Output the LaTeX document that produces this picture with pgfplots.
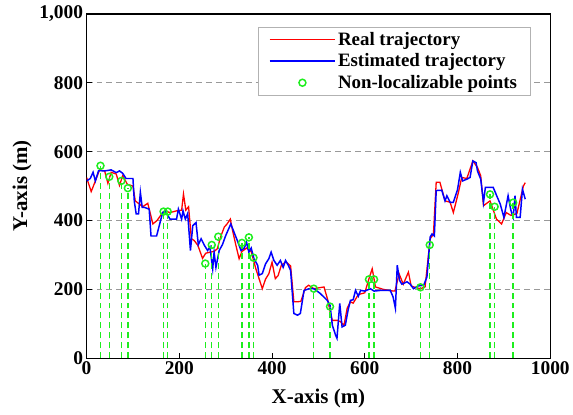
\documentclass[border=0pt]{standalone}
\usepackage{pgfplots}
\pgfplotsset{compat=1.18}
\usepackage{fontspec}
\setmainfont{Liberation Serif}
\definecolor{myblue}{RGB}{0,0,255}
\definecolor{mygreen}{RGB}{30,238,30}
\pgfplotsset{
  vline/.style={color=mygreen, solid, line width=1.4pt, dash pattern=on 6pt off 4pt, no marks, forget plot},
}
\begin{document}
\begin{tikzpicture}
\begin{axis}[
  scale only axis, width=466pt, height=346pt,
  xmin=0, xmax=1000, ymin=0, ymax=1000,
  xtick={0,200,...,1000}, ytick={0,200,...,1000},
  tick align=inside, xtick pos=bottom, ytick pos=left,
  major tick length=5pt,
  axis line style={line width=1.4pt, black},
  every tick/.style={line width=1pt, black},
  ymajorgrids, major grid style={gray!80, line width=0.9pt, dash pattern=on 6pt off 4pt},
  /pgf/number format/assume math mode=true,
  ticklabel style={font=\fontsize{19.5}{20}\selectfont\bfseries},
  x tick label style={/pgf/number format/1000 sep={}},
  y tick label style={/pgf/number format/1000 sep={,}},
  xlabel={X-axis (m)}, ylabel={Y-axis (m)},
  label style={font=\fontsize{21}{22}\selectfont\bfseries},
  xlabel style={at={(axis description cs:0.5,-0.118)}, anchor=center},
  ylabel style={at={(axis description cs:-0.139,0.5)}, anchor=center},
  legend style={at={(0.957,0.962)}, anchor=north east, draw=gray!60, line width=0.6pt,
    font=\fontsize{19}{20}\selectfont\bfseries, row sep=3pt, inner xsep=11pt, inner ysep=3pt},
  legend cell align=left,
  legend image code/.code={\draw[mark repeat=2,mark phase=2,#1] plot coordinates {(0pt,0pt) (33pt,0pt) (66pt,0pt)};},
]
\coordinate (O) at (rel axis cs:0,0);
\coordinate (T) at (rel axis cs:1,1);
\addplot[color=red, solid, line width=1.3pt, no marks] coordinates {
(0,525) (10,484) (17,508) (28,547) (39,544) (46,508) (53,540) (64,535) (71,502) (78,530)
(88,505) (100,500) (105,457) (121,440) (132,450) (143,390) (152,400) (164,423) (169,428) (180,423)
(194,428) (205,430) (209,477) (214,430) (220,440) (226,347) (232,342) (240,328) (250,290) (257,305)
(266,308) (275,310) (282,318) (289,352) (297,381) (303,390) (310,404) (315,370) (322,328) (329,289)
(335,310) (345,320) (355,310) (365,260) (372,231) (379,202) (386,230) (393,245) (400,279) (407,231)
(413,240) (420,270) (430,280) (440,268) (447,164) (454,164) (462,165) (472,205) (479,212) (490,202)
(512,207) (520,170) (526,130) (530,110) (540,110) (548,106) (555,95) (562,145) (569,164) (575,160)
(586,185) (600,190) (609,231) (616,260) (623,207) (640,200) (655,196) (665,195) (674,245) (683,215)
(694,250) (700,210) (710,205) (720,202) (730,207) (741,347) (748,360) (754,511) (762,511) (773,457)
(784,453) (791,423) (802,482) (809,525) (820,522) (833,573) (843,554) (850,530) (856,443) (870,457)
(884,404) (895,390) (905,423) (915,415) (928,420) (942,500) (946,510)
};
\addlegendentry{Real trajectory}
\addplot[color=myblue, solid, line width=1.5pt, no marks] coordinates {
(0,515) (8,522) (14,540) (19,515) (26,545) (39,544) (53,547) (64,539) (71,544) (78,537)
(85,522) (100,522) (103,455) (107,419) (112,419) (116,482) (120,438) (125,438) (135,433) (139,355)
(151,355) (164,423) (169,428) (180,404) (194,404) (198,433) (205,404) (208,428) (213,404) (218,420)
(224,313) (229,385) (236,394) (241,330) (247,347) (254,328) (261,313) (266,323) (272,260) (275,308)
(279,264) (286,313) (293,330) (300,356) (311,390) (318,366) (325,342) (333,313) (340,320) (345,337)
(350,308) (355,320) (361,289) (369,270) (372,241) (379,246) (386,274) (393,289) (398,308) (404,284)
(411,270) (418,284) (424,264) (429,284) (435,270) (440,255) (447,130) (455,125) (461,130) (469,197)
(480,202) (490,202) (504,188) (519,168) (525,154) (530,96) (537,67) (540,58) (546,159) (551,91)
(558,96) (564,140) (569,168) (575,170) (580,197) (586,180) (591,197) (600,195) (612,202) (620,195)
(634,197) (655,197) (661,178) (666,145) (670,270) (675,226) (680,215) (691,222) (698,215) (705,202)
(715,210) (727,212) (734,236) (741,352) (745,361) (750,355) (754,487) (766,488) (773,457) (777,472)
(784,453) (791,453) (800,490) (806,540) (811,515) (820,520) (827,525) (833,573) (840,568) (843,544)
(850,520) (856,453) (860,496) (877,496) (885,470) (892,448) (900,409) (909,472) (915,430) (920,409)
(924,472) (927,409) (935,409) (940,491) (946,462)
};
\addlegendentry{Estimated trajectory}
\addplot[vline] coordinates {(30,0) (30,559)};
\addplot[vline] coordinates {(49,0) (49,527)};
\addplot[vline] coordinates {(75,0) (75,515)};
\addplot[vline] coordinates {(89,0) (89,494)};
\addplot[vline] coordinates {(166,0) (166,426)};
\addplot[vline] coordinates {(175,0) (175,426)};
\addplot[vline] coordinates {(256,0) (256,275)};
\addplot[vline] coordinates {(270,0) (270,329)};
\addplot[vline] coordinates {(284,0) (284,353)};
\addplot[vline] coordinates {(335,0) (335,335)};
\addplot[vline] coordinates {(350,0) (350,351)};
\addplot[vline] coordinates {(360,0) (360,292)};
\addplot[vline] coordinates {(490,0) (490,202)};
\addplot[vline] coordinates {(525,0) (525,150)};
\addplot[vline] coordinates {(609,0) (609,229)};
\addplot[vline] coordinates {(620,0) (620,229)};
\addplot[vline] coordinates {(720,0) (720,206)};
\addplot[vline] coordinates {(740,0) (740,329)};
\addplot[vline] coordinates {(870,0) (870,476)};
\addplot[vline] coordinates {(880,0) (880,440)};
\addplot[vline] coordinates {(920,0) (920,452)};
\addplot[only marks, mark=o, mark size=3.5pt, color=mygreen, line width=1.5pt, mark options={fill=white}] coordinates {
(30,559) (49,527) (75,515) (89,494) (166,426) (175,426) (256,275) (270,329) (284,353) (335,335)
(350,351) (360,292) (490,202) (525,150) (609,229) (620,229) (720,206) (740,329) (870,476) (880,440) (920,452)
};
\addlegendentry{Non-localizable points}
\end{axis}
\path ([shift={(-87pt,-57pt)}]O) rectangle ([shift={(20pt,14pt)}]T);
\end{tikzpicture}
\end{document}
